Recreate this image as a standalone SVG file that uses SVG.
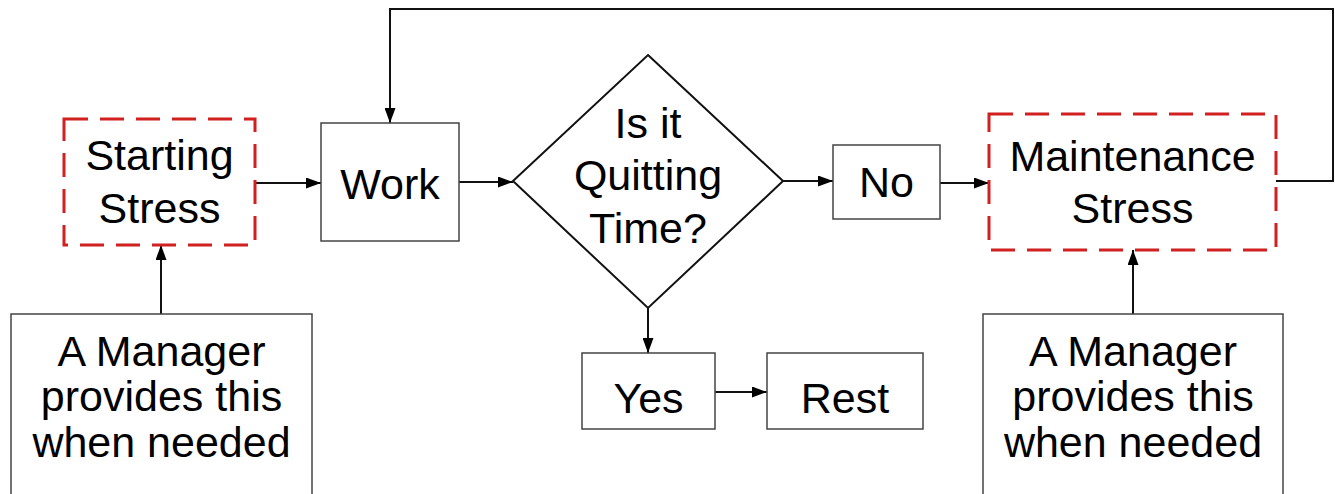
<svg xmlns="http://www.w3.org/2000/svg" width="1335" height="494" viewBox="0 0 1335 494">
<style>
.box{fill:#fff;stroke:#444;stroke-width:1.5}
.dia{fill:#fff;stroke:#111;stroke-width:2}
.dash{fill:#fff;stroke:#d0201f;stroke-width:3;stroke-dasharray:24 12}
.t{font-family:"Liberation Sans",Arial,sans-serif;font-size:43px;fill:#000;text-anchor:middle}
.c{fill:none;stroke:#111;stroke-width:2}
</style>
<defs>
<marker id="ah" markerUnits="userSpaceOnUse" markerWidth="15" markerHeight="11" refX="15" refY="5.5" orient="auto">
<path d="M0,0 L15,5.5 L0,11 z" fill="#000"/>
</marker>
</defs>
<rect width="1335" height="494" fill="#fff"/>
<g id="connectors">
<path class="c" d="M255,183 H321" marker-end="url(#ah)"/>
<path class="c" d="M459,182 H513" marker-end="url(#ah)"/>
<path class="c" d="M783,181 H833" marker-end="url(#ah)"/>
<path class="c" d="M940,183 H989" marker-end="url(#ah)"/>
<path class="c" d="M1276,181 H1333 V9 H390 V123" marker-end="url(#ah)"/>
<path class="c" d="M648,308 V353" marker-end="url(#ah)"/>
<path class="c" d="M715,392 H767" marker-end="url(#ah)"/>
<path class="c" d="M161,314 V245" marker-end="url(#ah)"/>
<path class="c" d="M1133,314 V250" marker-end="url(#ah)"/>
</g>
<g id="starting-stress">
<rect class="dash" x="64" y="119" width="191" height="126"/>
<text class="t" x="159.5" y="170">Starting</text>
<text class="t" x="159.5" y="223">Stress</text>
</g>
<g id="work">
<rect class="box" x="321" y="123" width="138" height="118"/>
<text class="t" x="390" y="199">Work</text>
</g>
<g id="decision">
<path class="dia" d="M648,55 L783,181 L648,308 L513,181 z"/>
<text class="t" x="648" y="138">Is it</text>
<text class="t" x="648" y="190">Quitting</text>
<text class="t" x="648" y="243">Time?</text>
</g>
<g id="no">
<rect class="box" x="833" y="145" width="107" height="74"/>
<text class="t" x="886.5" y="197">No</text>
</g>
<g id="maintenance-stress">
<rect class="dash" x="989" y="114" width="287" height="136"/>
<text class="t" x="1132.5" y="171">Maintenance</text>
<text class="t" x="1132.5" y="223">Stress</text>
</g>
<g id="yes">
<rect class="box" x="582" y="353" width="133" height="76"/>
<text class="t" x="648.5" y="413">Yes</text>
</g>
<g id="rest">
<rect class="box" x="767" y="353" width="156" height="76"/>
<text class="t" x="845" y="413">Rest</text>
</g>
<g id="manager-left">
<rect class="box" x="11" y="314" width="301" height="200"/>
<text class="t" x="161.5" y="366">A Manager</text>
<text class="t" x="161.5" y="411">provides this</text>
<text class="t" x="161.5" y="457">when needed</text>
</g>
<g id="manager-right">
<rect class="box" x="983" y="314" width="300" height="200"/>
<text class="t" x="1133" y="366">A Manager</text>
<text class="t" x="1133" y="411">provides this</text>
<text class="t" x="1133" y="457">when needed</text>
</g>
</svg>
